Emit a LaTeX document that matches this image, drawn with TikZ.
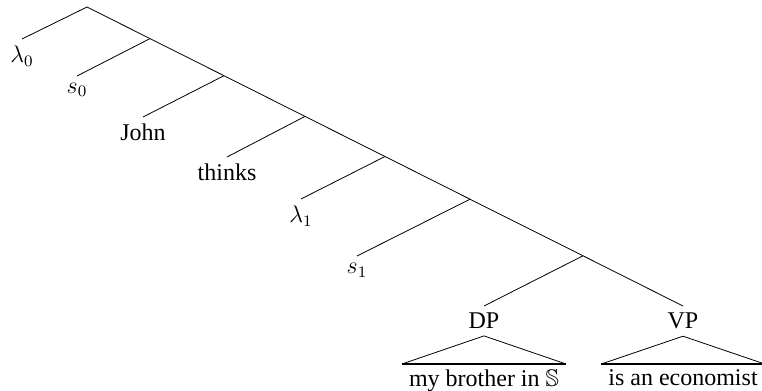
\documentclass[tikz,border=0pt]{standalone}
\usepackage{amssymb}
\usepackage{amsmath}
\usepackage{fontspec}
\setmainfont{Liberation Serif}
\usetikzlibrary{positioning}
\tikzset{
  leaf/.style={anchor=north, inner sep=0.3333em},
  roof/.style={anchor=north, inner xsep=0.3333em, inner ysep=0.25em},
}

\begin{document}
\begin{tikzpicture}[x=0.5pt,y=-0.5pt,font=\fontsize{12}{14}\selectfont]
        \useasboundingbox (0,0) rectangle (762,391);
        % Dorsale
        \coordinate (top) at (87,7);
        \coordinate (n1) at (150,38.6);
        \coordinate (n2) at (224,75.7);
        \coordinate (n3) at (305,116.4);
        \coordinate (n4) at (385,156.5);
        \coordinate (n5) at (470,199.2);
        \coordinate (n6) at (583,255.8);
        % Foglie
        \node[leaf] (lam0) at (22,39) {$\lambda_0$};
        \node[leaf] (s0) at (77,76) {$s_0$};
        \node[leaf] (john) at (143,117) {John};
        \node[leaf] (thinks) at (227,157) {thinks};
        \node[leaf] (lam1) at (301,199) {$\lambda_1$};
        \node[leaf] (s1) at (357,256) {$s_1$};
        \node[leaf] (dp) at (484,306) {DP};
        \node[leaf] (vp) at (683,306) {VP};
        % Testo sotto i triangoli
        \node[roof] (dptxt) at (484,364) {my brother in $\mathbb{S}$};
        \node[roof] (vptxt) at (683,364) {is an economist};
        % Rami
        \draw (top) -- (n1) -- (n2) -- (n3) -- (n4) -- (n5) -- (n6) -- (vp.north);
        \foreach \a/\b in {top/lam0, n1/s0, n2/john, n3/thinks, n4/lam1, n5/s1, n6/dp}
            \draw (\a) -- (\b.north);
        % Triangoli
        \draw (dp.south) -- (dptxt.north west);
        \draw (dp.south) -- (dptxt.north east);
        \draw[line width=1pt] (dptxt.north west) -- (dptxt.north east);
        \draw (vp.south) -- (vptxt.north west);
        \draw (vp.south) -- (vptxt.north east);
        \draw[line width=1pt] (vptxt.north west) -- (vptxt.north east);
    \end{tikzpicture}
\end{document}
